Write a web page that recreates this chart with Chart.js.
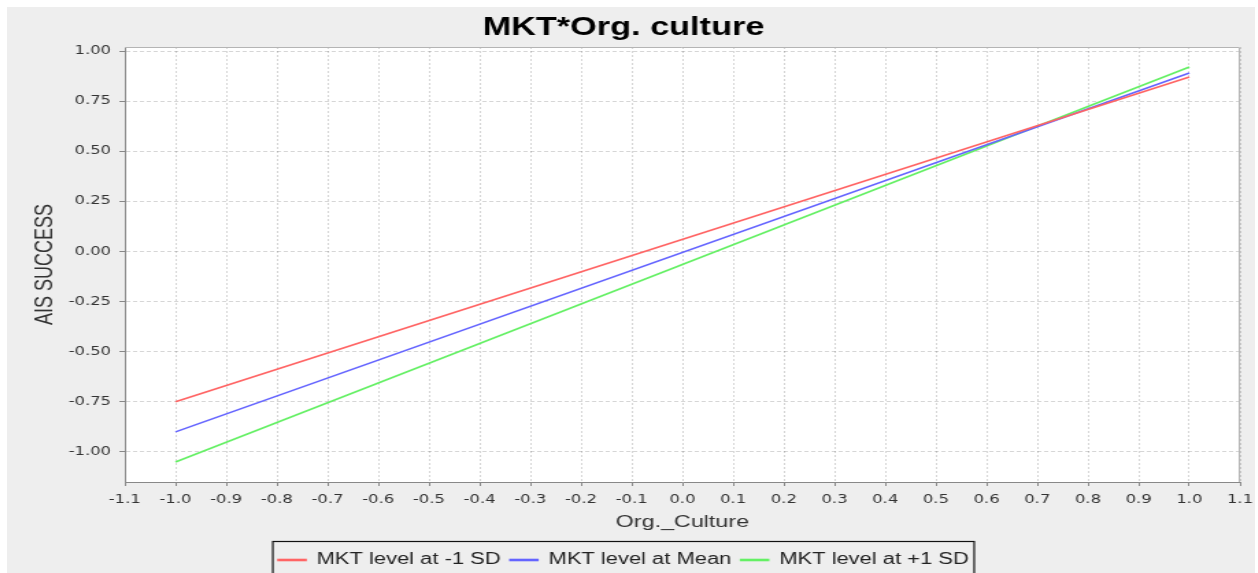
<!DOCTYPE html>
<html>
<head>
<meta charset="utf-8">
<title>MKT*Org. culture</title>
<script src="https://cdn.jsdelivr.net/npm/chart.js@4.4.1/dist/chart.umd.min.js"></script>
<style>
  body { margin: 0; background: #ffffff; }
  .frame {
    position: absolute;
    left: 7px;
    top: 7px;
    width: 1248px;
    height: 566px;
    background: #eeeeee;
    overflow: hidden;
  }
  /* the chart is laid out narrow and widened, like the exported plot */
  .stretch {
    width: 911px;
    height: 566px;
    transform: scaleX(1.37);
    transform-origin: 0 0;
  }
</style>
</head>
<body>
<div class="frame">
  <div class="stretch">
    <canvas id="chart"></canvas>
  </div>
</div>
<script>
// Simple slopes of AIS success on org. culture, at three levels of MKT
const orgCulture = [-1.0, 1.0];
const mktLowSD = [-0.75, 0.87];
const mktMean = [-0.9, 0.89];
const mktHighSD = [-1.05, 0.92];

const seriesLabels = ["MKT level at -1 SD", "MKT level at Mean", "MKT level at +1 SD"];
const seriesColors = ["#ff6464", "#6464ff", "#64f064"];

const xTickValues = [-1.1, -1.0, -0.9, -0.8, -0.7, -0.6, -0.5, -0.4, -0.3, -0.2, -0.1,
  0.0, 0.1, 0.2, 0.3, 0.4, 0.5, 0.6, 0.7, 0.8, 0.9, 1.0, 1.1];
const yTickValues = [-1.0, -0.75, -0.5, -0.25, 0.0, 0.25, 0.5, 0.75, 1.0];

const tickFont = { family: "'DejaVu Sans', sans-serif", size: 12 };
const labelFont = { family: "'Liberation Sans', Arial, sans-serif", size: 17 };

function points(ys) {
  return orgCulture.map((x, i) => ({ x: x, y: ys[i] }));
}

// white plot background and a thin frame around it
const plotFrame = {
  id: "plotFrame",
  beforeDraw(chart) {
    const { ctx, chartArea: a } = chart;
    ctx.save();
    ctx.fillStyle = "#ffffff";
    ctx.fillRect(a.left, a.top, a.right - a.left, a.bottom - a.top);
    ctx.restore();
  },
  afterDraw(chart) {
    const { ctx, chartArea: a } = chart;
    ctx.save();
    ctx.strokeStyle = "#b4b4b4";
    ctx.lineWidth = 1;
    ctx.beginPath();
    ctx.moveTo(a.left, a.top + 0.5);
    ctx.lineTo(a.right - 0.5, a.top + 0.5);
    ctx.lineTo(a.right - 0.5, a.bottom);
    ctx.stroke();
    ctx.restore();
  },
};

// box drawn round the legend entries
const legendBorder = {
  id: "legendBorder",
  afterDraw(chart) {
    const boxes = chart.legend.legendHitBoxes;
    if (!boxes || !boxes.length) return;
    const left = Math.min(...boxes.map((b) => b.left)) - 4;
    const right = Math.max(...boxes.map((b) => b.left + b.width)) + 4;
    const top = Math.min(...boxes.map((b) => b.top)) - 11;
    const { ctx } = chart;
    ctx.save();
    ctx.strokeStyle = "#111111";
    ctx.lineWidth = 1.2;
    ctx.strokeRect(left, top + 0.5, right - left, 60);
    ctx.restore();
  },
};

const datasets = [mktLowSD, mktMean, mktHighSD].map((ys, i) => ({
  label: seriesLabels[i],
  data: points(ys),
  borderColor: seriesColors[i],
  backgroundColor: seriesColors[i],
  borderWidth: 1.6,
  pointRadius: 0,
  fill: false,
}));

new Chart(document.getElementById("chart"), {
  type: "line",
  data: { datasets: datasets },
  plugins: [plotFrame, legendBorder],
  options: {
    responsive: true,
    maintainAspectRatio: false,
    animation: false,
    events: [],
    layout: { padding: { left: 0, right: 11, top: 0, bottom: -5 } },
    plugins: {
      title: {
        display: true,
        text: "MKT*Org. culture",
        color: "#000000",
        font: { family: "'Liberation Sans', Arial, sans-serif", size: 25, weight: "bold" },
        padding: { top: 6, bottom: 4 },
      },
      legend: {
        position: "bottom",
        labels: {
          color: "#222222",
          font: { family: "'Liberation Sans', Arial, sans-serif", size: 16 },
          boxWidth: 20,
          boxHeight: 1,
          padding: 7,
        },
      },
      tooltip: { enabled: false },
    },
    scales: {
      x: {
        type: "linear",
        min: -1.1,
        max: 1.1,
        afterBuildTicks: (scale) => {
          scale.ticks = xTickValues.map((v) => ({ value: v }));
        },
        afterFit: (scale) => {
          scale.height = 63;
          scale.paddingLeft = 0;
          scale.paddingRight = 0;
        },
        ticks: {
          font: tickFont,
          color: "#333333",
          padding: 7,
          maxRotation: 0,
          autoSkip: false,
          callback: (v) => Number(v).toFixed(1),
        },
        grid: {
          color: "rgba(0,0,0,0.16)",
          tickColor: "#888888",
          tickLength: 4,
          tickBorderDash: [],
        },
        // dotted vertical grid lines
        border: { display: true, color: "#888888", width: 1, dash: [2, 2] },
        title: {
          display: true,
          text: "Org._Culture",
          color: "#333333",
          font: labelFont,
          padding: { top: 4, bottom: 12 },
        },
      },
      y: {
        min: -1.15,
        max: 1.02,
        afterBuildTicks: (scale) => {
          scale.ticks = yTickValues.map((v) => ({ value: v }));
        },
        afterFit: (scale) => {
          scale.width = 86;
          scale.paddingTop = 0;
          scale.paddingBottom = 0;
        },
        ticks: {
          font: tickFont,
          color: "#333333",
          padding: 6,
          autoSkip: false,
          callback: (v) => Number(v).toFixed(2),
        },
        grid: {
          color: "rgba(0,0,0,0.16)",
          tickColor: "#888888",
          tickLength: 4,
          tickBorderDash: [],
        },
        // dashed horizontal grid lines
        border: { display: true, color: "#888888", width: 1, dash: [3, 2] },
        title: {
          display: true,
          text: "AIS SUCCESS",
          color: "#333333",
          font: { family: "'Liberation Sans', Arial, sans-serif", size: 18 },
          padding: { top: 17, bottom: 4 },
        },
      },
    },
  },
});
</script>
</body>
</html>
